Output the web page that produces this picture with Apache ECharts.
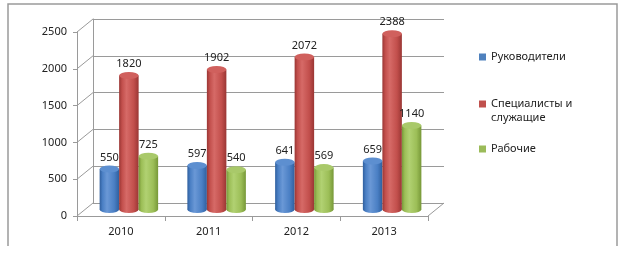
<!DOCTYPE html>
<html>
<head>
<meta charset="utf-8">
<script src="https://cdn.jsdelivr.net/npm/echarts@6/dist/echarts.min.js"></script>
<style>html,body{margin:0;padding:0;background:#fff}#c{width:624px;height:253px}</style>
</head>
<body>
<div id="c"></div>
<script>
var categories = ['2010', '2011', '2012', '2013'];
var seriesNames = ['Руководители', 'Специалисты и служащие', 'Рабочие'];
var managers = [550, 597, 641, 659];
var specialists = [1820, 1902, 2072, 2388];
var workers = [725, 540, 569, 1140];
var yTicks = [0, 500, 1000, 1500, 2000, 2500];

var values = [managers, specialists, workers];
var baseColors = ['#4F81BD', '#C0504D', '#9BBB59'];
var darkColors = ['#2F5F9E', '#9A3634', '#779838'];
var midColors = ['#4A7FC4', '#C24F4C', '#9CBE57'];
var lightColors = ['#6A98D6', '#D66A67', '#B1D172'];
var topColors = ['#5D8FD0', '#D0605D', '#A9C96A'];
var FONT = '"Noto Sans", sans-serif';
var BW = 19.5, GAP = '0%';
var ellipse = 'path://M0,50 A50,50 0 1,1 100,50 A50,50 0 1,1 0,50 Z';

function grad(i) {
  return new echarts.graphic.LinearGradient(0, 0, 1, 0, [
    {offset: 0, color: darkColors[i]},
    {offset: 0.15, color: midColors[i]},
    {offset: 0.38, color: lightColors[i]},
    {offset: 0.75, color: midColors[i]},
    {offset: 1, color: darkColors[i]}
  ]);
}

var series = [];
// bottom caps (own axis pair so their layout matches the bars)
values.forEach(function (vals, i) {
  series.push({
    type: 'pictorialBar', xAxisIndex: 3, yAxisIndex: 3, z: 1,
    barWidth: BW, barGap: GAP, symbol: ellipse, symbolSize: [BW, 7],
    symbolPosition: 'start', symbolOffset: [0, '50%'],
    itemStyle: {color: grad(i)}, data: vals, silent: true
  });
});
values.forEach(function (vals, i) {
  series.push({
    name: seriesNames[i], type: 'bar', xAxisIndex: 1, yAxisIndex: 1, z: 2,
    barWidth: BW, barGap: GAP, itemStyle: {color: grad(i)}, data: vals,
    label: {show: true, position: 'top', distance: 6, color: '#222', fontSize: 11, fontFamily: FONT}
  });
});
values.forEach(function (vals, i) {
  series.push({
    type: 'pictorialBar', xAxisIndex: 1, yAxisIndex: 1, z: 3,
    barWidth: BW, barGap: GAP, symbol: ellipse, symbolSize: [BW, 7],
    symbolPosition: 'end', symbolOffset: [0, '-50%'],
    itemStyle: {color: topColors[i]}, data: vals, silent: true
  });
});
// left wall / floor diagonals, derived from the front axis ticks
series.push({
  type: 'custom', xAxisIndex: 0, yAxisIndex: 0, silent: true, clip: false, z: 0,
  data: yTicks.map(function (v) { return [0, v]; }),
  encode: {x: 0, y: 1},
  renderItem: function (params, api) {
    var v = api.value(1);
    var p = api.coord([0, v]);
    var half = api.size([1, 0])[0] / 2;
    var x0 = p[0] - half;
    var st = {stroke: '#9a9a9a', lineWidth: 1};
    var children = [{type: 'line', shape: {x1: x0, y1: p[1], x2: x0 + 16, y2: p[1] - 13}, style: st}];
    if (v === 0) {
      var q = api.coord([categories.length - 1, 0]);
      var x1 = q[0] + half;
      children.push({type: 'line', shape: {x1: x1, y1: q[1], x2: x1 + 16, y2: q[1] - 13}, style: st});
    }
    return {type: 'group', children: children};
  }
});

var legendBase = {
  orient: 'vertical', left: 479, padding: 0, itemWidth: 7, itemHeight: 7,
  icon: 'rect', textStyle: {fontSize: 11, color: '#222', fontFamily: FONT, lineHeight: 14}
};
function legendFor(i, top, extra) {
  var l = Object.assign({}, legendBase, {top: top,
    data: [{name: seriesNames[i], itemStyle: {color: baseColors[i]}}]});
  return Object.assign(l, extra || {});
}

var option = {
  backgroundColor: '#fff',
  animation: false,
  graphic: [{
    type: 'polyline', silent: true,
    shape: {points: [[8, 246], [8, 4], [617, 4], [617, 246]]},
    style: {stroke: '#9a9a9a', lineWidth: 1.5, fill: null}
  }],
  legend: [
    legendFor(0, 50),
    legendFor(1, 83, {
      formatter: function (n) { return '\u00a0\n' + n.replace(' и ', ' и\n'); }
    }),
    legendFor(2, 142)
  ],
  grid: [
    {left: 77, right: 196, top: 32, bottom: 37},
    {left: 85, right: 188, top: 25.5, bottom: 43.5},
    {left: 93, right: 180, top: 19, bottom: 50}
  ],
  xAxis: [
    {gridIndex: 0, type: 'category', data: categories,
     axisLine: {lineStyle: {color: '#9a9a9a'}},
     axisTick: {show: true, length: 5, lineStyle: {color: '#9a9a9a'}},
     axisLabel: {margin: 10, color: '#222', fontSize: 11, fontFamily: FONT}},
    {gridIndex: 1, type: 'category', data: categories, show: false},
    {gridIndex: 2, type: 'category', data: categories, show: false},
    {gridIndex: 1, type: 'category', data: categories, show: false}
  ],
  yAxis: [
    {gridIndex: 0, type: 'value', min: 0, max: 2500, interval: 500,
     axisLine: {show: true, lineStyle: {color: '#9a9a9a'}},
     axisTick: {show: true, length: 4, lineStyle: {color: '#9a9a9a'}},
     splitLine: {show: false},
     axisLabel: {margin: 10, color: '#222', fontSize: 11, fontFamily: FONT,
                 formatter: function (v) { return String(v); }}},
    {gridIndex: 1, type: 'value', min: 0, max: 2500, interval: 500, show: false, splitLine: {show: false}},
    {gridIndex: 2, type: 'value', min: 0, max: 2500, interval: 500,
     axisLine: {show: true, lineStyle: {color: '#9a9a9a'}},
     axisTick: {show: false}, axisLabel: {show: false},
     splitLine: {show: true, lineStyle: {color: '#9a9a9a'}}},
    {gridIndex: 1, type: 'value', min: 0, max: 2500, interval: 500, show: false, splitLine: {show: false}}
  ],
  series: series
};

var chart = echarts.init(document.getElementById('c'), null, {renderer: 'canvas'});
chart.setOption(option);
</script>
</body>
</html>
